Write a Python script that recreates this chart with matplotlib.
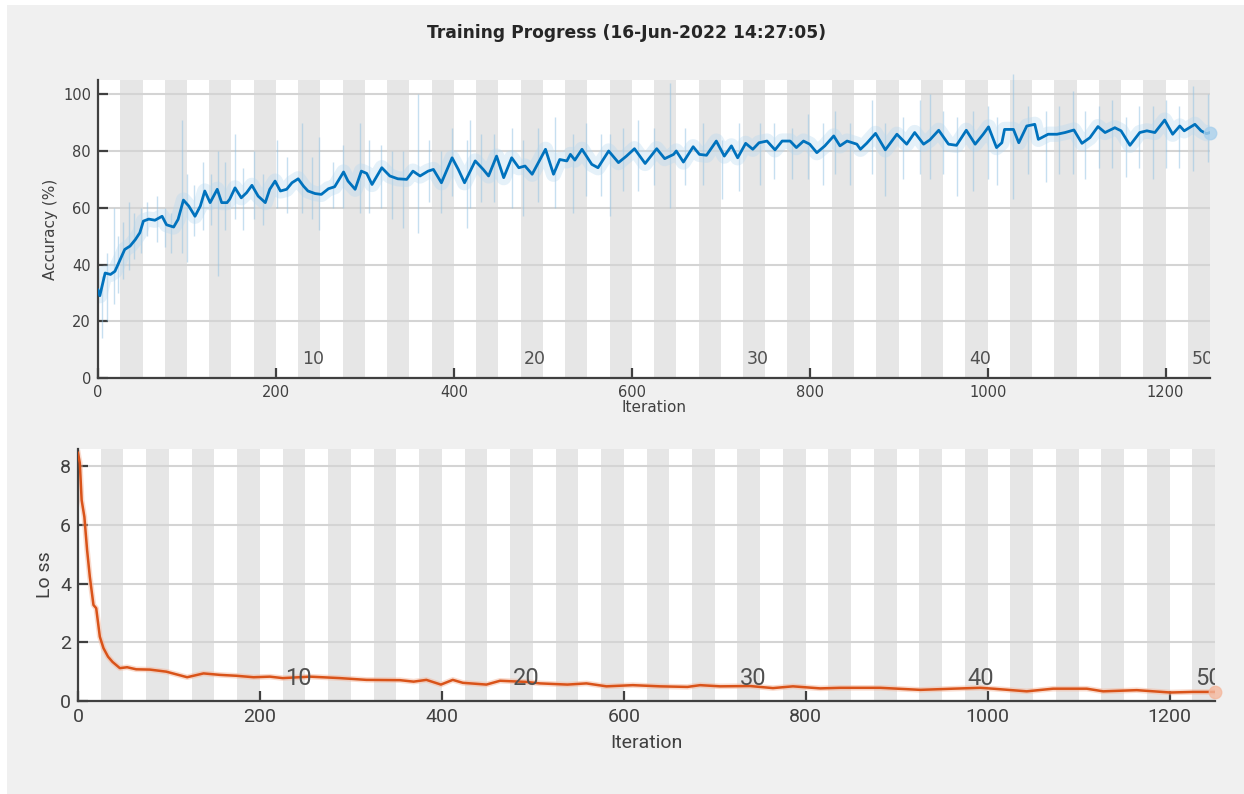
import matplotlib
matplotlib.use("Agg")
import matplotlib.pyplot as plt
from matplotlib.patches import Rectangle
from matplotlib.transforms import blended_transform_factory

# Wartosci (iteracja -> dokladnosc wygladzona)
acc_iter = [0, 2, 8, 14, 19, 25, 30, 36, 42, 47, 51, 57, 64, 72, 77, 85, 90, 96, 102, 109,
            115, 120, 126, 134, 139, 145, 148, 154, 161, 167, 173, 180, 188, 193, 199, 205, 212, 218, 225, 231,
            236, 244, 251, 259, 266, 276, 281, 289, 296, 302, 308, 319, 328, 337, 347, 354, 362, 371, 377, 386,
            398, 405, 412, 424, 433, 439, 448, 456, 465, 473, 480, 488, 495, 503, 512, 519, 527, 531, 536, 544,
            555, 562, 574, 585, 594, 603, 615, 628, 637, 647, 650, 658, 669, 676, 684, 695, 704, 712, 719, 728,
            736, 743, 752, 761, 769, 778, 785, 793, 800, 808, 817, 827, 834, 842, 853, 857, 864, 874, 885, 898,
            909, 918, 928, 935, 945, 956, 965, 976, 986, 995, 1001, 1010, 1016, 1019, 1029, 1035, 1044, 1053, 1057, 1068,
            1078, 1087, 1097, 1106, 1115, 1124, 1132, 1143, 1150, 1160, 1171, 1179, 1188, 1199, 1208, 1216, 1221, 1233, 1240, 1246,
            1250]
acc_smooth = [31, 29, 37, 36.5, 37.6, 41.8, 45.3, 46.5, 48.8, 51.2, 55.3, 56, 55.6, 57, 54, 53.2, 55.9, 62.7, 60.6, 57,
              60.6, 65.9, 61.8, 66.5, 61.8, 61.8, 63, 67, 63.5, 65.3, 67.9, 64.1, 61.8, 66.5, 69.4, 65.9, 66.5, 68.8, 70.2, 67.6,
              65.9, 65, 64.7, 66.7, 67.4, 72.6, 69.4, 66.5, 72.9, 72.1, 68.2, 74.1, 71.2, 70.2, 70, 72.9, 71.2, 72.9, 73.5, 68.8,
              77.6, 73.5, 68.8, 76.5, 73.5, 71.2, 78.2, 70.6, 77.6, 74.1, 74.7, 71.8, 75.9, 80.6, 71.8, 77, 76.5, 78.8, 76.8, 80.6,
              75.3, 74.1, 80, 75.9, 78.2, 80.8, 75.6, 80.8, 77.3, 78.8, 80, 76.1, 81.5, 78.8, 78.5, 83.5, 78.2, 81.8, 77.6, 82.7,
              80.6, 82.9, 83.5, 80.4, 83.5, 83.5, 81.2, 83.5, 82.4, 79.4, 81.8, 85.3, 81.8, 83.5, 82.4, 80.6, 82.7, 86.2, 80.4, 85.9,
              82.4, 86.5, 82.4, 83.9, 87.3, 82.4, 82, 87.3, 82.4, 85.9, 88.5, 81.2, 82.9, 87.6, 87.6, 82.9, 88.8, 89.4, 84.1, 85.9,
              85.9, 86.5, 87.4, 82.7, 84.7, 88.6, 86.5, 88.2, 87.1, 82, 86.5, 87.1, 86.5, 90.9, 85.9, 88.8, 87.1, 89.4, 87.1, 86.1,
              86.5]

# Surowe skoki dokladnosci: iteracja, minimum, maksimum
spike_iter = [5, 10, 18, 22, 28, 35, 40, 48, 55, 66, 75, 82, 94, 100, 108, 118, 127, 135, 143, 154,
              163, 175, 186, 201, 212, 229, 240, 248, 264, 275, 294, 305, 318, 330, 343, 360, 372, 386, 398, 415,
              418, 430, 445, 465, 478, 495, 514, 534, 548, 565, 575, 590, 607, 625, 643, 660, 680, 701, 720, 744,
              760, 780, 798, 815, 828, 845, 870, 885, 905, 924, 935, 950, 965, 984, 1000, 1010, 1029, 1045, 1066, 1080,
              1096, 1110, 1125, 1140, 1155, 1170, 1186, 1200, 1215, 1231, 1248]
spike_lo = [14, 20, 26, 30, 35, 38, 42, 44, 50, 48, 46, 44, 44, 41, 50, 52, 54, 36, 52, 56,
            52, 56, 54, 60, 58, 58, 56, 52, 60, 60, 58, 58, 60, 56, 53, 51, 62, 58, 64, 53,
            60, 62, 62, 60, 57, 62, 60, 58, 64, 64, 57, 66, 66, 68, 60, 68, 68, 63, 66, 68,
            70, 70, 70, 68, 72, 68, 72, 64, 70, 72, 70, 72, 64, 66, 70, 68, 63, 72, 69, 72,
            72, 70, 74, 74, 71, 74, 70, 74, 74, 73, 76]
spike_hi = [36, 44, 60, 50, 55, 62, 58, 60, 62, 64, 60, 58, 91, 72, 68, 76, 72, 80, 76, 86,
            74, 80, 72, 84, 78, 90, 78, 85, 76, 82, 90, 84, 82, 80, 80, 100, 84, 80, 88, 84,
            91, 86, 86, 88, 84, 88, 92, 86, 90, 86, 86, 88, 91, 88, 104, 88, 90, 84, 90, 90,
            90, 88, 93, 90, 94, 90, 98, 90, 92, 98, 100, 94, 92, 94, 96, 92, 107, 96, 94, 96,
            101, 94, 96, 98, 92, 96, 96, 98, 96, 103, 100]

# Strata (wygladzona)
loss_iter = [0, 2, 4, 7, 10, 13, 17, 20, 24, 28, 33, 38, 46, 54, 64, 79, 97, 120, 138, 156,
             174, 193, 211, 225, 255, 288, 317, 354, 369, 383, 399, 412, 423, 449, 464, 493, 508, 538, 559, 581,
             610, 640, 670, 684, 706, 739, 764, 786, 816, 838, 882, 926, 962, 992, 1006, 1043, 1072, 1109, 1127, 1164,
             1201, 1226, 1250]
loss = [8.45, 8.1, 6.84, 6.27, 5.14, 4.23, 3.27, 3.16, 2.19, 1.8, 1.51, 1.33, 1.12, 1.15, 1.08, 1.07, 1.0, 0.81, 0.94, 0.89,
        0.86, 0.81, 0.83, 0.78, 0.83, 0.78, 0.72, 0.71, 0.66, 0.72, 0.56, 0.72, 0.62, 0.56, 0.69, 0.65, 0.6, 0.56, 0.6, 0.5,
        0.54, 0.5, 0.48, 0.54, 0.5, 0.51, 0.44, 0.5, 0.43, 0.45, 0.45, 0.38, 0.42, 0.45, 0.42, 0.33, 0.42, 0.42, 0.33, 0.37,
        0.29, 0.31, 0.31]

n_epochs = 50
iters_per_epoch = 25
epoch_labels = [10, 20, 30, 40, 50]

fig = plt.figure(figsize=(12.44, 7.94), dpi=100, facecolor='white')
fig.patches.append(Rectangle((7 / 1244, 0), 1, 1 - 5 / 794, transform=fig.transFigure,
                             facecolor='#f0f0f0', edgecolor='none', zorder=-10))

fig.text(0.504, 0.958, 'Training Progress (16-Jun-2022 14:27:05)', ha='center', va='center',
         fontsize=12.3, weight='bold', color='#262626')

ax1 = fig.add_axes([0.0788, 0.5239, 0.8939, 0.3753])
ax2 = fig.add_axes([0.0627, 0.1171, 0.9140, 0.3174])


def style_axes(ax, ymax, tick_font, label_font, ylabel, lab_family, xpad):
    ax.set_xlim(0, n_epochs * iters_per_epoch)
    ax.set_ylim(0, ymax)
    for e in range(n_epochs):
        if e % 2 == 1:
            ax.axvspan(e * iters_per_epoch, (e + 1) * iters_per_epoch, color='#e6e6e6', lw=0, zorder=0)
    ax.grid(True, axis='y', color='#d4d4d4', lw=1.5, zorder=1)
    ax.set_axisbelow(True)
    for s in ['top', 'right']:
        ax.spines[s].set_visible(False)
    for s in ['left', 'bottom']:
        ax.spines[s].set_color('#404040')
        ax.spines[s].set_linewidth(1.6)
    ax.tick_params(direction='in', length=7, width=1.6, color='#404040',
                   labelcolor='#404040', labelsize=tick_font, pad=5)
    ax.set_xlabel('Iteration', fontsize=label_font, color='#404040', family=lab_family, labelpad=xpad)
    ax.set_ylabel(ylabel, fontsize=label_font, color='#404040', family=lab_family, labelpad=4)
    ax.set_facecolor('white')


style_axes(ax1, 105, 10.5, 11, 'Accuracy (%)', 'DejaVu Sans', 0)
ax1.set_yticks([0, 20, 40, 60, 80, 100])
ax1.set_xticks([0, 200, 400, 600, 800, 1000, 1200])

style_axes(ax2, 8.58, 14, 14, 'Lo ss', 'Roboto', 6)
ax2.set_yticks([0, 2, 4, 6, 8])
ax2.set_xticks([0, 200, 400, 600, 800, 1000, 1200])
for lab in ax2.get_xticklabels() + ax2.get_yticklabels():
    lab.set_family('Roboto')

# Dokladnosc
ax1.vlines(spike_iter, spike_lo, spike_hi, color='#8fc1e3', lw=1.0, alpha=0.5, zorder=2, clip_on=False)
ax1.plot(acc_iter, acc_smooth, color='#b5d7ef', lw=11, alpha=0.35, zorder=2, solid_capstyle='round')
ax1.plot(acc_iter, acc_smooth, color='#0072BD', lw=2, zorder=3)
ax1.plot(acc_iter[-1], acc_smooth[-1], 'o', ms=9, color='#a9d0ec', alpha=0.8, zorder=3, clip_on=False)

# Strata
ax2.plot(loss_iter, loss, color='#f4b89e', lw=4, alpha=0.5, zorder=2)
ax2.plot(loss_iter, loss, color='#D95319', lw=1.8, zorder=3)
ax2.plot(loss_iter[-1], loss[-1], 'o', ms=9, color='#f4b89e', alpha=0.8, zorder=3, clip_on=False)

# Numery epok
for ax, fs, ypos, fam, off in [(ax1, 12.5, 0.035, 'DejaVu Sans', 4), (ax2, 17, 0.045, 'Roboto', 3)]:
    tr = blended_transform_factory(ax.transData, ax.transAxes)
    for ep in epoch_labels:
        ax.text((ep - 1) * iters_per_epoch + off, ypos, str(ep), transform=tr, ha='left', va='bottom',
                fontsize=fs, color='#505050', family=fam, clip_on=True, zorder=4)

fig.savefig('out.png', dpi=100, facecolor=fig.get_facecolor())
